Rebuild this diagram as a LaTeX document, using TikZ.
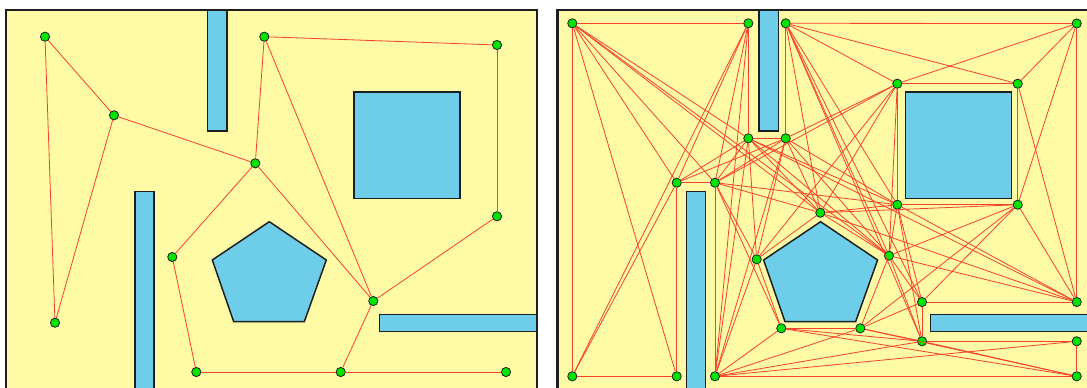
\documentclass[tikz,border=0pt]{standalone}
\usepackage{xcolor}
\usepackage{tikz}
\usetikzlibrary{arrows.meta,positioning}
\definecolor{wsSand} {RGB}{255,250,166}
\definecolor{wsBlue} {RGB}{110,205,233}
\definecolor{wsInk}  {RGB}{ 30, 30, 30}
\definecolor{wsRed}  {RGB}{245, 66, 45}
\definecolor{wsGreen}{RGB}{  0,228,  0}

% one workspace: frame, walls, square, pentagon (pixel units)
\newcommand{\drawworld}{%
  \draw[frame] (6,10) rectangle (537,420);
  \draw[block] (207.5,10) rectangle (227,131);
  \draw[block] (135,191.5) rectangle (154,420);
  \draw[block] (354,92) rectangle (460,198.3);
  \draw[block] (379.3,314.7) rectangle (537,331.3);
  \draw[block] (269.3,221.7) -- (326.3,260) -- (304.3,321.7)
               -- (233.7,321.7) -- (212.3,260) -- cycle;
}

\begin{document}
\begin{tikzpicture}[
  x=0.75pt,y=-0.75pt,
  frame/.style={draw=wsInk,line width=1.9pt,fill=wsSand},
  block/.style={draw=wsInk,line width=1.1pt,fill=wsBlue,line join=miter},
  wp/.style={circle,fill=wsGreen,draw=wsInk,line width=0.6pt,
             inner sep=0pt,minimum size=6.9pt},
  link/.style={draw=wsRed,line width=0.6pt}
]
\useasboundingbox (0,0) rectangle (1087,387);
\clip (0,0) rectangle (1087,387);

% --- Left: sampled roadmap
\begin{scope}
  \drawworld
\end{scope}
\node[wp] (s1)  at (45,36.7)   {};
\node[wp] (s2)  at (114,115.3) {};
\node[wp] (s3)  at (255.3,163.3) {};
\node[wp] (s4)  at (264.3,36.7) {};
\node[wp] (s5)  at (497,45)    {};
\node[wp] (s6)  at (55,322.7)  {};
\node[wp] (s7)  at (172.3,257) {};
\node[wp] (s8)  at (196.3,372) {};
\node[wp] (s9)  at (373.3,301) {};
\node[wp] (s10) at (497,216.3) {};
\node[wp] (s11) at (340.7,372) {};
\node[wp] (s12) at (506,372)   {};
\draw[link] (s1) edge (s2) edge (s6);
\draw[link] (s2) edge (s6) edge (s3);
\draw[link] (s3) edge (s4) edge (s7) edge (s9);
\draw[link] (s4) edge (s5) edge (s9);
\draw[link] (s5) edge (s10);
\draw[link] (s10) edge (s9);
\draw[link] (s9) edge (s11);
\draw[link] (s7) edge (s8);
\draw[link] (s8) edge (s11);
\draw[link] (s11) edge (s12);

% --- Right: visibility graph
\begin{scope}[shift={(551.3,0)}]
  \drawworld
\end{scope}
\node[wp] (v1)  at (572.3,23.3)  {};
\node[wp] (v2)  at (748.3,23.3)  {};
\node[wp] (v3)  at (785.7,23.3)  {};
\node[wp] (v4)  at (748.3,138.3) {};
\node[wp] (v5)  at (785.7,138.3) {};
\node[wp] (v6)  at (676.7,182.7) {};
\node[wp] (v7)  at (715,182.7)   {};
\node[wp] (v8)  at (1076.7,23.5) {};
\node[wp] (v9)  at (897.3,83.7)  {};
\node[wp] (v10) at (1017.7,83.7) {};
\node[wp] (v11) at (756.7,259.3) {};
\node[wp] (v12) at (781.3,328.3) {};
\node[wp] (v13) at (572.3,376.3) {};
\node[wp] (v14) at (676.7,376.3) {};
\node[wp] (v15) at (715,376.3)   {};
\node[wp] (v16) at (820.3,212.7) {};
\node[wp] (v17) at (897.3,204.7) {};
\node[wp] (v18) at (1017.7,204.7) {};
\node[wp] (v19) at (889,255.7)   {};
\node[wp] (v20) at (922,302)     {};
\node[wp] (v21) at (1076.7,302)  {};
\node[wp] (v22) at (860.3,328.3) {};
\node[wp] (v23) at (922,341.3)   {};
\node[wp] (v24) at (1076.7,341.3) {};
\node[wp] (v25) at (1076.7,376.3) {};
\draw[link] (v1) edge (v2) edge (v4) edge (v6) edge (v7) edge (v13)
                 edge (v14) edge (v16) edge (v19);
\draw[link] (v2) edge (v4) edge (v6) edge (v7) edge (v13) edge (v15);
\draw[link] (v3) edge (v5) edge (v8) edge (v9) edge (v10) edge (v16)
                 edge (v17) edge (v19) edge (v20) edge (v23);
\draw[link] (v4) edge (v5) edge (v6) edge (v7) edge (v11) edge (v15)
                 edge (v16) edge (v17) edge (v19) edge (v21);
\draw[link] (v5) edge (v6) edge (v7) edge (v9) edge (v11) edge (v15)
                 edge (v16) edge (v17) edge (v19);
\draw[link] (v6) edge (v7) edge (v13) edge (v14);
\draw[link] (v7) edge (v9) edge (v11) edge (v12) edge (v15) edge (v16)
                 edge (v17);
\draw[link] (v8) edge (v9) edge (v10) edge (v18) edge (v21);
\draw[link] (v9) edge (v10) edge (v11) edge (v16) edge (v17) edge (v19);
\draw[link] (v10) edge (v18) edge (v21);
\draw[link] (v11) edge (v12) edge (v15) edge (v16);
\draw[link] (v12) edge (v15) edge (v22) edge (v23) edge (v25);
\draw[link] (v13) edge (v14);
\draw[link] (v15) edge (v22) edge (v23) edge (v24) edge (v25);
\draw[link] (v16) edge (v17) edge (v18) edge (v19) edge (v21);
\draw[link] (v17) edge (v18) edge (v19) edge (v20) edge (v21) edge (v23);
\draw[link] (v18) edge (v19) edge (v20) edge (v21) edge (v22);
\draw[link] (v19) edge (v20) edge (v21) edge (v22) edge (v23);
\draw[link] (v20) edge (v21) edge (v22) edge (v23);
\draw[link] (v22) edge (v23) edge (v25);
\draw[link] (v23) edge (v24) edge (v25);
\draw[link] (v24) edge (v25);
\end{tikzpicture}
\end{document}
